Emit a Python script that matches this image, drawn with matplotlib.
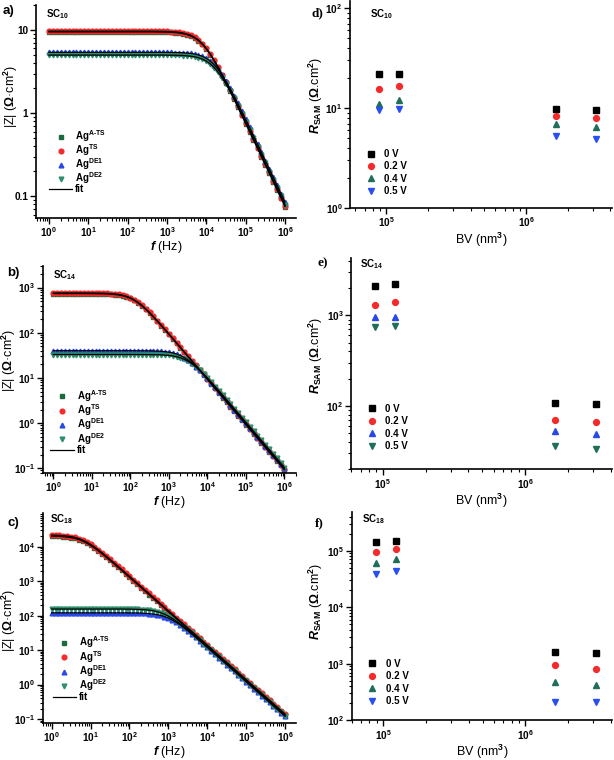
import matplotlib
matplotlib.use('Agg')
import matplotlib.pyplot as plt
from matplotlib.ticker import LogLocator, NullFormatter, FixedFormatter, FixedLocator

plt.rcParams['font.family'] = 'Liberation Sans'
plt.rcParams['font.weight'] = 'bold'
plt.rcParams['mathtext.fontset'] = 'custom'
plt.rcParams['mathtext.rm'] = 'Liberation Sans:bold'
plt.rcParams['mathtext.it'] = 'Liberation Sans:bold:italic'
plt.rcParams['mathtext.bf'] = 'Liberation Sans:bold'
plt.rcParams['mathtext.sf'] = 'Liberation Sans:bold'

## frequency (Hz), 10 points per decade
freq = [1.0, 1.26, 1.58, 2.0, 2.51, 3.16, 3.98, 5.01, 6.31, 7.94,
        10, 12.6, 15.8, 20, 25.1, 31.6, 39.8, 50.1, 63.1, 79.4,
        100, 126, 158, 200, 251, 316, 398, 501, 631, 794,
        1e3, 1.26e3, 1.58e3, 2e3, 2.51e3, 3.16e3, 3.98e3, 5.01e3, 6.31e3, 7.94e3,
        1e4, 1.26e4, 1.58e4, 2e4, 2.51e4, 3.16e4, 3.98e4, 5.01e4, 6.31e4, 7.94e4,
        1e5, 1.26e5, 1.58e5, 2e5, 2.51e5, 3.16e5, 3.98e5, 5.01e5, 6.31e5, 7.94e5,
        1e6]

## SC10 |Z| (ohm cm2)
sc10_ats = [9.5, 9.5, 9.5, 9.5, 9.5, 9.5, 9.5, 9.5, 9.5, 9.5,
            9.5, 9.5, 9.5, 9.5, 9.5, 9.5, 9.5, 9.5, 9.5, 9.5,
            9.5, 9.5, 9.5, 9.5, 9.5, 9.5, 9.5, 9.48, 9.47, 9.45,
            9.43, 9.38, 9.32, 9.22, 9.06, 8.83, 8.49, 8.04, 7.44, 6.72,
            5.91, 5.07, 4.26, 3.51, 2.86, 2.31, 1.86, 1.49, 1.19, 0.945,
            0.752, 0.598, 0.476, 0.378, 0.300, 0.239, 0.190, 0.151, 0.119, 0.095,
            0.0755]
sc10_ts = [9.7, 9.7, 9.7, 9.7, 9.7, 9.7, 9.7, 9.7, 9.7, 9.7,
           9.7, 9.7, 9.7, 9.7, 9.7, 9.7, 9.7, 9.7, 9.7, 9.7,
           9.7, 9.7, 9.7, 9.7, 9.7, 9.7, 9.7, 9.68, 9.67, 9.65,
           9.62, 9.58, 9.51, 9.41, 9.25, 9.01, 8.67, 8.20, 7.60, 6.86,
           6.03, 5.18, 4.34, 3.59, 2.92, 2.36, 1.90, 1.52, 1.21, 0.965,
           0.768, 0.611, 0.486, 0.386, 0.307, 0.244, 0.194, 0.154, 0.122, 0.097,
           0.0771]
sc10_de1 = [5.4, 5.4, 5.4, 5.4, 5.4, 5.4, 5.4, 5.4, 5.4, 5.4,
            5.4, 5.4, 5.4, 5.4, 5.4, 5.4, 5.4, 5.4, 5.4, 5.4,
            5.4, 5.4, 5.4, 5.4, 5.4, 5.4, 5.4, 5.4, 5.4, 5.4,
            5.39, 5.38, 5.37, 5.36, 5.33, 5.30, 5.24, 5.15, 5.02, 4.83,
            4.57, 4.23, 3.82, 3.36, 2.88, 2.42, 2.00, 1.63, 1.32, 1.06,
            0.846, 0.674, 0.537, 0.428, 0.340, 0.270, 0.215, 0.171, 0.136, 0.108,
            0.0855]
sc10_de2 = [5.0, 5.0, 5.0, 5.0, 5.0, 5.0, 5.0, 5.0, 5.0, 5.0,
            5.0, 5.0, 5.0, 5.0, 5.0, 5.0, 5.0, 5.0, 5.0, 5.0,
            5.0, 5.0, 5.0, 5.0, 5.0, 5.0, 5.0, 5.0, 5.0, 5.0,
            4.99, 4.98, 4.98, 4.96, 4.94, 4.90, 4.85, 4.77, 4.65, 4.47,
            4.23, 3.92, 3.54, 3.11, 2.67, 2.24, 1.85, 1.51, 1.22, 0.979,
            0.783, 0.625, 0.498, 0.396, 0.315, 0.250, 0.199, 0.158, 0.126, 0.100,
            0.0792]

## SC14
sc14_ats = [735, 735, 735, 735, 735, 735, 735, 735, 734, 733,
            733, 731, 729, 726, 721, 713, 701, 683, 658, 622,
            575, 520, 457, 392, 329, 272, 221, 179, 144, 115,
            91.8, 73.1, 58.2, 46.3, 36.8, 29.3, 23.2, 18.5, 14.7, 11.7,
            9.27, 7.35, 5.84, 4.64, 3.68, 2.93, 2.32, 1.85, 1.47, 1.17,
            0.927, 0.735, 0.584, 0.464, 0.368, 0.293, 0.232, 0.185, 0.147, 0.117,
            0.0927]
sc14_ts = [760, 760, 760, 760, 760, 760, 760, 760, 759, 758,
           758, 756, 754, 751, 745, 737, 725, 706, 680, 643,
           595, 537, 473, 406, 340, 281, 229, 185, 149, 119,
           94.9, 75.6, 60.2, 47.9, 38.0, 30.3, 24.0, 19.1, 15.2, 12.1,
           9.59, 7.60, 6.04, 4.80, 3.81, 3.03, 2.40, 1.91, 1.52, 1.21,
           0.959, 0.760, 0.604, 0.480, 0.381, 0.303, 0.240, 0.191, 0.152, 0.121,
           0.0959]
sc14_de1 = [40.0, 40.0, 40.0, 40.0, 40.0, 40.0, 40.0, 40.0, 40.0, 40.0,
            40.0, 40.0, 40.0, 40.0, 40.0, 40.0, 40.0, 40.0, 40.0, 40.0,
            40.0, 40.0, 39.9, 39.9, 39.8, 39.7, 39.5, 39.2, 38.8, 38.1,
            37.2, 35.8, 33.8, 31.3, 28.3, 24.9, 21.3, 17.9, 14.8, 12.1,
            9.74, 7.83, 6.26, 5.00, 3.98, 3.17, 2.52, 2.00, 1.59, 1.26,
            1.00, 0.798, 0.634, 0.504, 0.400, 0.318, 0.252, 0.200, 0.159, 0.126,
            0.100]
sc14_de2 = [33.0, 33.0, 33.0, 33.0, 33.0, 33.0, 33.0, 33.0, 33.0, 33.0,
            33.0, 33.0, 33.0, 33.0, 33.0, 33.0, 33.0, 33.0, 33.0, 33.0,
            33.0, 33.0, 33.0, 32.9, 32.9, 32.8, 32.7, 32.6, 32.4, 32.0,
            31.5, 30.7, 29.5, 27.9, 25.8, 23.3, 20.5, 17.6, 14.8, 12.2,
            9.95, 8.04, 6.46, 5.17, 4.12, 3.28, 2.61, 2.08, 1.65, 1.31,
            1.04, 0.829, 0.659, 0.523, 0.416, 0.330, 0.262, 0.208, 0.165, 0.131,
            0.104]

## SC18
sc18_ats = [20200, 20100, 19900, 19500, 19000, 18300, 17300, 16100, 14500, 12700,
            10900, 9180, 7580, 6180, 4990, 4010, 3210, 2560, 2040, 1620,
            1290, 1030, 816, 649, 515, 409, 325, 258, 205, 163,
            129, 103, 81.6, 64.9, 51.5, 40.9, 32.5, 25.8, 20.5, 16.3,
            12.9, 10.3, 8.16, 6.49, 5.15, 4.09, 3.25, 2.58, 2.05, 1.63,
            1.29, 1.03, 0.816, 0.649, 0.515, 0.409, 0.325, 0.258, 0.205, 0.163,
            0.129]
sc18_ts = [21700, 21600, 21300, 21000, 20400, 19700, 18600, 17200, 15600, 13700,
           11700, 9850, 8140, 6630, 5360, 4310, 3450, 2750, 2190, 1740,
           1390, 1100, 876, 696, 553, 439, 349, 277, 220, 175,
           139, 110, 87.6, 69.6, 55.3, 43.9, 34.9, 27.7, 22.0, 17.5,
           13.9, 11.0, 8.76, 6.96, 5.53, 4.39, 3.49, 2.77, 2.20, 1.75,
           1.39, 1.10, 0.876, 0.696, 0.553, 0.439, 0.349, 0.277, 0.220, 0.175,
           0.139]
sc18_de1 = [120, 120, 120, 120, 120, 120, 120, 120, 120, 120,
            120, 120, 120, 120, 120, 120, 120, 120, 120, 120,
            119, 119, 119, 118, 116, 114, 111, 107, 101, 94.0,
            84.9, 74.6, 64.0, 53.7, 44.4, 36.2, 29.2, 23.5, 18.8, 15.0,
            11.9, 9.50, 7.56, 6.01, 4.78, 3.79, 3.01, 2.39, 1.90, 1.51,
            1.20, 0.953, 0.757, 0.601, 0.478, 0.379, 0.301, 0.239, 0.190, 0.151,
            0.120]
sc18_de2 = [155, 155, 155, 155, 155, 155, 155, 155, 155, 155,
            155, 155, 155, 155, 155, 155, 155, 155, 155, 154,
            154, 153, 152, 150, 148, 144, 139, 131, 121, 110,
            96.4, 82.7, 69.4, 57.3, 46.7, 37.8, 30.3, 24.3, 19.4, 15.4,
            12.3, 9.76, 7.76, 6.17, 4.90, 3.89, 3.09, 2.46, 1.95, 1.55,
            1.23, 0.977, 0.776, 0.617, 0.490, 0.389, 0.309, 0.246, 0.195, 0.155,
            0.123]

## R_SAM vs breakdown volume
bv = [8.9e4, 1.23e5, 1.62e6, 3.13e6]
bias_labels = ['0 V', '0.2 V', '0.4 V', '0.5 V']
rsam_sc10 = [[22, 22, 9.9, 9.5], [15.7, 16.8, 8.4, 8.0],
             [11.1, 12.0, 7.0, 6.5], [9.6, 9.9, 5.3, 4.9]]
rsam_sc14 = [[2100, 2230, 109, 105], [1300, 1410, 70, 66],
             [950, 955, 53, 49], [743, 762, 36, 33.6]]
rsam_sc18 = [[1.41e5, 1.48e5, 1600, 1570], [9.5e4, 1.06e5, 960, 815],
             [6.1e4, 7.2e4, 470, 413], [3.9e4, 4.4e4, 209, 209]]

ag_labels = [r'Ag$^{\mathrm{A\text{-}TS}}$', r'Ag$^{\mathrm{TS}}$',
             r'Ag$^{\mathrm{DE1}}$', r'Ag$^{\mathrm{DE2}}$']
ag_markers = ['s', 'o', '^', 'v']
ag_colors = ['#1c6b3e', '#f52a2a', '#2a48e6', '#2e8f6a']

W, H = 614, 760
fig = plt.figure(figsize=(W / 100, H / 100), dpi=100)


def px_axes(l, r, t, b):
    return fig.add_axes([l / W, 1 - b / H, (r - l) / W, (b - t) / H])


def style(ax):
    for s in ['top', 'right']:
        ax.spines[s].set_visible(False)
    for s in ['left', 'bottom']:
        ax.spines[s].set_linewidth(1.2)
    ax.set_xscale('log')
    ax.set_yscale('log')
    ax.tick_params(which='major', direction='out', length=4, width=1,
                   labelsize=7.2, pad=1.5)
    ax.tick_params(which='minor', direction='out', length=2, width=0.8)
    ax.xaxis.set_minor_formatter(NullFormatter())
    ax.yaxis.set_minor_formatter(NullFormatter())


def plot_bode(ax, series, xlim, ylim, leg_anchor, leg_space, ylab_xy):
    style(ax)
    for z, lab, m, c in zip(series, ag_labels, ag_markers, ag_colors):
        ax.plot(freq, z, ls='none', marker=m, ms=3.4, color=c, mec=c,
                label=lab)
    for i, z in enumerate(series):
        ax.plot(freq, z, color='k', lw=0.9, label='fit' if i == 0 else None)
    ax.set_xlim(xlim)
    ax.set_ylim(ylim)
    ax.xaxis.set_major_locator(LogLocator(base=10, numticks=10))
    ax.xaxis.set_minor_locator(LogLocator(base=10, subs=range(2, 10), numticks=20))
    ax.set_xlabel(r'$\mathit{f}$ (Hz)', fontsize=9, labelpad=0)
    ax.set_ylabel(r'|Z| ($\Omega$·cm$^{2}$)', fontsize=9)
    ax.yaxis.set_label_coords(*ylab_xy)
    h, l = ax.get_legend_handles_labels()
    ax.legend(h, l, loc='upper left', bbox_to_anchor=leg_anchor, frameon=False,
              fontsize=7, handlelength=2.4, handletextpad=0.3,
              labelspacing=leg_space, borderpad=0, borderaxespad=0)


def plot_rsam(ax, vals, xlim, ylim, colors, leg_anchor, ylab_xy):
    style(ax)
    markers = ['s', 'o', '^', 'v']
    for y, lab, m, c in zip(vals, bias_labels, markers, colors):
        ax.plot(bv, y, ls='none', marker=m, ms=4.2, color=c, mec=c, label=lab)
    ax.set_xlim(xlim)
    ax.set_ylim(ylim)
    ax.xaxis.set_major_locator(LogLocator(base=10, numticks=10))
    ax.xaxis.set_minor_locator(LogLocator(base=10, subs=range(2, 10), numticks=20))
    ax.set_xlabel('BV (nm$^{3}$)', fontsize=9, labelpad=1)
    ax.set_ylabel(r'$\mathit{R}_{\mathrm{SAM}}$ ($\Omega$.cm$^{2}$)', fontsize=9)
    ax.yaxis.set_label_coords(*ylab_xy)
    ax.legend(loc='upper left', bbox_to_anchor=leg_anchor, frameon=False,
              fontsize=7, handlelength=1.6, handletextpad=0.6,
              labelspacing=0.25, borderpad=0, borderaxespad=0)


## left column
ax_a = px_axes(36, 296, 5, 218)
plot_bode(ax_a, [sc10_ats, sc10_ts, sc10_de1, sc10_de2],
          (0.47, 1.9e6), (0.055, 20), (0.05, 0.42), -0.2, (-0.06, 0.573))
ax_a.yaxis.set_major_locator(FixedLocator([0.1, 1, 10]))
ax_a.yaxis.set_major_formatter(FixedFormatter(['0.1', '1', '10']))

ax_b = px_axes(42.7, 296, 266, 472.7)
plot_bode(ax_b, [sc14_ats, sc14_ts, sc14_de1, sc14_de2],
          (0.53, 2.0e6), (0.08, 3000), (0.03, 0.41), -0.15, (-0.098, 0.545))

ax_c = px_axes(42.7, 296, 513, 722.7)
plot_bode(ax_c, [sc18_ats, sc18_ts, sc18_de1, sc18_de2],
          (0.59, 1.9e6), (0.078, 9.5e4), (0.04, 0.42), -0.15, (-0.098, 0.49))

## right column
green_blue = ['k', '#f52a2a', '#1f6e5a', '#2a4ff0']
blue_green = ['k', '#f52a2a', '#2a48e6', '#1f6e5a']

ax_d = px_axes(350, 612, 1, 208)
plot_rsam(ax_d, rsam_sc10, (5.5e4, 4.1e6), (1, 118), green_blue, (0.05, 0.285),
          (-0.096, 0.546))

ax_e = px_axes(351, 612, 258, 469.3)
plot_rsam(ax_e, rsam_sc14, (6e4, 4.06e6), (20, 4300), blue_green, (0.05, 0.31),
          (-0.1, 0.54))

ax_f = px_axes(351.7, 612, 511.7, 720.3)
plot_rsam(ax_f, rsam_sc18, (6e4, 4.06e6), (100, 4.9e5), green_blue, (0.05, 0.295),
          (-0.103, 0.568))

## panel letters and sample names
for x, y, s, fam in [(3, 14, 'a)', 'Liberation Sans'), (7, 276, 'b)', 'Liberation Sans'),
                     (7, 526, 'c)', 'Liberation Sans'), (312, 16, 'd)', 'Liberation Serif'),
                     (317, 266, 'e)', 'Liberation Serif'), (315, 526, 'f)', 'Liberation Serif')]:
    fig.text(x / W, 1 - y / H, s, fontsize=9.5, family=fam, weight='bold')

for x, y, s in [(46, 17, 'SC$_{10}$'), (53, 278, 'SC$_{14}$'), (50, 522, 'SC$_{18}$'),
                (370, 17, 'SC$_{10}$'), (360, 267, 'SC$_{14}$'), (362, 522, 'SC$_{18}$')]:
    fig.text(x / W, 1 - y / H, s, fontsize=7)

fig.savefig('out.png', dpi=100)
